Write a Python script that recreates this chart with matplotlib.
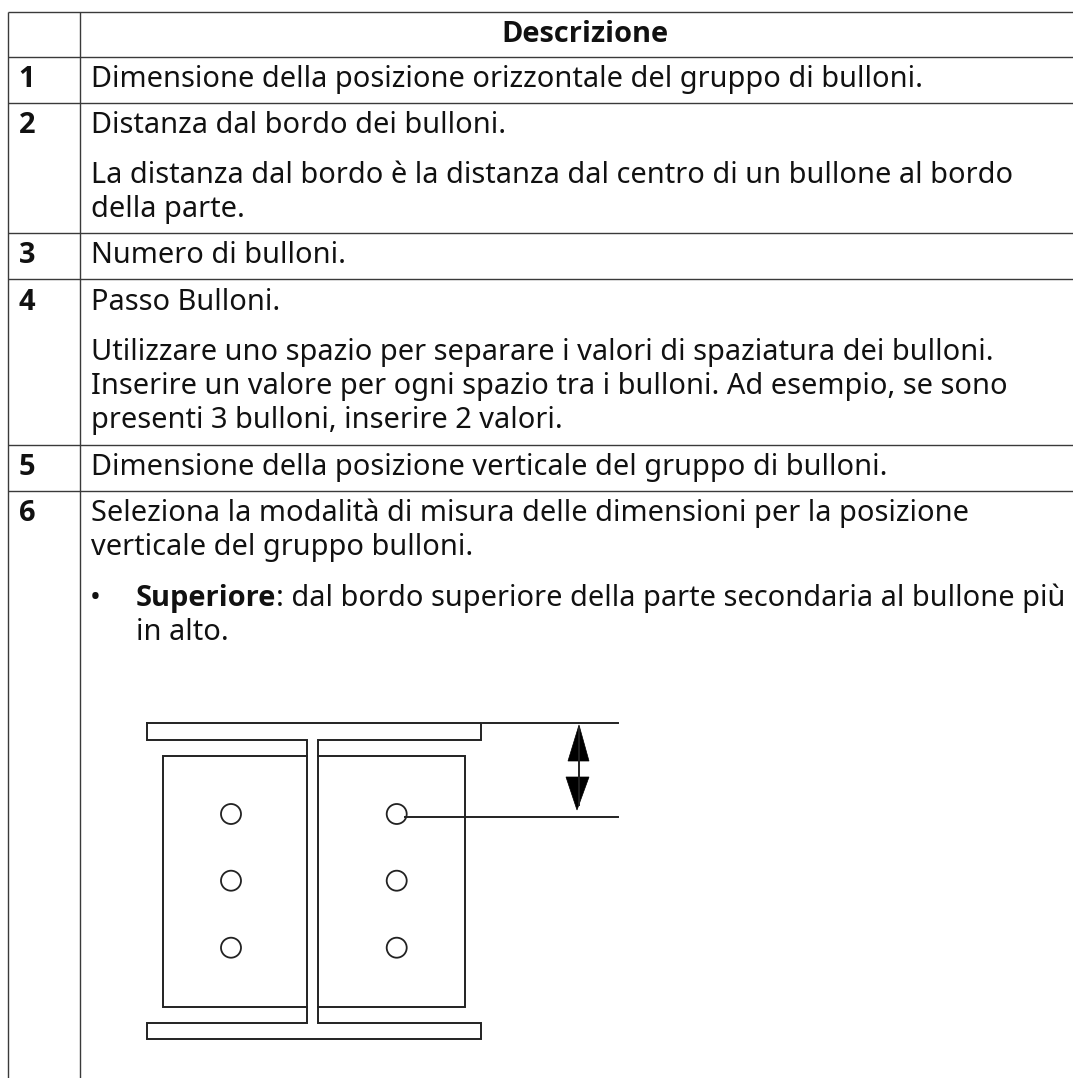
import matplotlib
matplotlib.use("Agg")
import matplotlib.pyplot as plt
from matplotlib.patches import Circle, Polygon

W, H = 1073, 1078
FONT = "Noto Sans"
BOLD_FONT = "Open Sans"
FS = 20.85

row_numbers = ["1", "2", "3", "4", "5", "6"]
header = "Descrizione"
body_lines = [
    "Dimensione della posizione orizzontale del gruppo di bulloni.",
    "Distanza dal bordo dei bulloni.",
    "La distanza dal bordo è la distanza dal centro di un bullone al bordo",
    "della parte.",
    "Numero di bulloni.",
    "Passo Bulloni.",
    "Utilizzare uno spazio per separare i valori di spaziatura dei bulloni.",
    "Inserire un valore per ogni spazio tra i bulloni. Ad esempio, se sono",
    "presenti 3 bulloni, inserire 2 valori.",
    "Dimensione della posizione verticale del gruppo di bulloni.",
    "Seleziona la modalità di misura delle dimensioni per la posizione",
    "verticale del gruppo bulloni.",
]
bullet_bold = "Superiore"
bullet_rest = ": dal bordo superiore della parte secondaria al bullone più"
bullet_cont = "in alto."

# text baselines, px from the top
number_y = [87.3, 132.7, 263.3, 309.5, 475, 521]
body_y = [87.3, 132.7, 183.3, 217.3, 263.3, 309.5, 360, 394, 428, 475, 521, 555]
bullet_y = [606, 640.5]
row_lines = [11.5, 57, 102.7, 233.3, 279.3, 445, 491]

fig = plt.figure(figsize=(W / 100, H / 100), dpi=100)
ax = fig.add_axes([0, 0, 1, 1])
ax.set_xlim(0, W)
ax.set_ylim(H, 0)
ax.axis("off")

# table grid
LINE = "#3a3a3a"
for y in row_lines:
    ax.plot([7.5, W], [y, y], color=LINE, lw=1.0, solid_capstyle="butt")
for x in [7.5, 79.5]:
    ax.plot([x, x], [11.5, H], color=LINE, lw=1.0, solid_capstyle="butt")


def txt(x, y, s, bold=False, ha="left"):
    # the installed Noto Sans has no bold face, Open Sans bold is close to it
    return ax.text(x, y, s, fontsize=FS, family=BOLD_FONT if bold else FONT,
                   weight="bold" if bold else "normal", ha=ha, va="baseline", color="#111111")


txt(584.7, 41.5, header, bold=True, ha="center")
for n, y in zip(row_numbers, number_y):
    txt(18.5, y, n, bold=True)
for s, y in zip(body_lines, body_y):
    txt(91, y, s)

# bullet line
txt(90, bullet_y[0], "•")
t = txt(135.5, bullet_y[0], bullet_bold, bold=True)
fig.canvas.draw()
bb = t.get_window_extent()
txt(bb.x1, bullet_y[0], bullet_rest)
txt(135.5, bullet_y[1], bullet_cont)

# beam drawing
DRAW = "#222222"
beam_x = [146.7, 307.3, 318.3, 481]
flange_top = [723.3, 740]
flange_bot = [1022.7, 1039.3]
plate_x = [163.3, 465]
plate_y = [756, 1006.7]
bolt_x = [231, 396.7]
bolt_y = [814, 880.7, 947.7]
dim_x_end = 618.3
dim_y = [723.3, 817]


def seg(xs, ys):
    ax.plot(xs, ys, color=DRAW, lw=1.4, solid_joinstyle="miter")


seg([beam_x[0], beam_x[3], beam_x[3], beam_x[2], beam_x[2], beam_x[3], beam_x[3], beam_x[0],
     beam_x[0], beam_x[1], beam_x[1], beam_x[0], beam_x[0]],
    [flange_top[0], flange_top[0], flange_top[1], flange_top[1], flange_bot[0], flange_bot[0],
     flange_bot[1], flange_bot[1], flange_bot[0], flange_bot[0], flange_top[1], flange_top[1],
     flange_top[0]])
seg([beam_x[1], plate_x[0], plate_x[0], beam_x[1]], [plate_y[0], plate_y[0], plate_y[1], plate_y[1]])
seg([beam_x[2], plate_x[1], plate_x[1], beam_x[2]], [plate_y[0], plate_y[0], plate_y[1], plate_y[1]])

for bx in bolt_x:
    for by in bolt_y:
        ax.add_patch(Circle((bx, by), 10, fill=False, ec=DRAW, lw=1.3))

# dimension
seg([482.7, dim_x_end], [dim_y[0], dim_y[0]])
seg([405, dim_x_end], [dim_y[1], dim_y[1]])
seg([578.5, 578.5], [728, 805])
ax.add_patch(Polygon([(579, 725), (568, 761), (589, 761)], closed=True, fc="black", ec="black", lw=0.5))
ax.add_patch(Polygon([(577, 810), (566, 777), (589, 777)], closed=True, fc="black", ec="black", lw=0.5))

fig.savefig("out.png", dpi=100, facecolor="white")
